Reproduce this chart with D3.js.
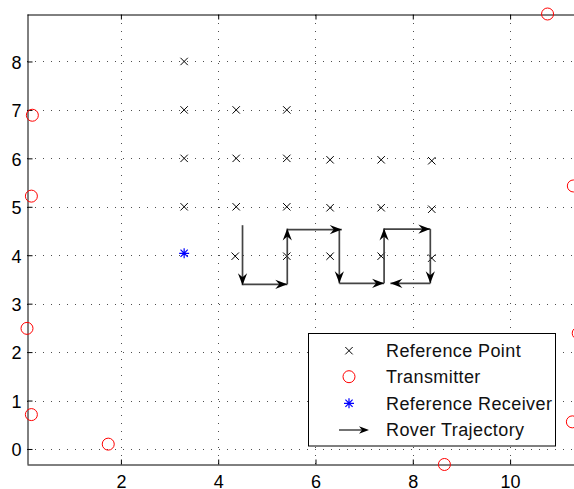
<!DOCTYPE html>
<html>
<head>
<meta charset="utf-8">
<script src="https://cdn.jsdelivr.net/npm/d3@7"></script>
<style>
  body { margin: 0; background: #fff; }
  svg { display: block; font-family: "Liberation Sans", Arial, Helvetica, sans-serif; }
</style>
</head>
<body>
<svg id="chart" width="574" height="489"></svg>
<script>
// reference grid points
const refX = [3.30, 3.30, 3.30, 3.30, 4.37, 4.37, 4.37, 4.35, 5.41, 5.41, 5.41, 5.41,
              6.30, 6.30, 6.30, 7.35, 7.35, 7.35, 8.39, 8.39, 8.39];
const refY = [8.00, 7.00, 6.00, 5.00, 7.00, 6.00, 5.00, 3.98, 7.00, 6.00, 5.00, 3.98,
              5.97, 4.98, 3.98, 5.97, 4.98, 3.98, 5.95, 4.95, 3.94];

// transmitters
const txX = [0.18, 0.16, 0.07, 0.16, 1.74, 10.77, 11.30, 11.40, 11.28, 8.65];
const txY = [6.89, 5.22, 2.49, 0.71, 0.10, 8.98, 5.43, 2.39, 0.56, -0.32];

// reference receiver
const rxX = [3.30];
const rxY = [4.04];

// rover trajectory segments (start -> end)
const trajX0 = [4.50, 4.51, 5.42, 5.43, 6.49, 6.49, 7.41, 7.40, 8.36, 8.36];
const trajY0 = [4.62, 3.40, 3.40, 4.53, 4.53, 3.42, 3.42, 4.54, 4.54, 3.42];
const trajX1 = [4.50, 5.42, 5.42, 6.54, 6.49, 7.41, 7.41, 8.36, 8.36, 7.54];
const trajY1 = [3.38, 3.40, 4.55, 4.53, 3.42, 3.42, 4.55, 4.54, 3.42, 3.42];

const xTicks = [2, 4, 6, 8, 10];
const yTicks = [0, 1, 2, 3, 4, 5, 6, 7, 8];
const legendLabels = ['Reference Point', 'Transmitter', 'Reference Receiver', 'Rover Trajectory'];

const svg = d3.select('#chart');
const plotLeft = 27, plotTop = 14, plotBottom = 464;
const x = d3.scaleLinear().domain([0.07, 11.5]).range([plotLeft, plotLeft + (11.5 - 0.07) * 48.65]);
const y = d3.scaleLinear().domain([-0.31, 8.98]).range([plotBottom, plotTop]);
const plotRight = x.range()[1];

// grid (dotted)
const grid = svg.append('g').attr('stroke', '#222').attr('stroke-width', 1)
    .attr('stroke-dasharray', '1,7').attr('opacity', 0.8);
grid.selectAll('line.gx').data(xTicks).enter().append('line')
    .attr('x1', d => Math.round(x(d)) + 0.5).attr('x2', d => Math.round(x(d)) + 0.5)
    .attr('y1', plotBottom).attr('y2', plotTop);
grid.selectAll('line.gy').data(yTicks).enter().append('line')
    .attr('x1', plotLeft).attr('x2', plotRight)
    .attr('y1', d => Math.round(y(d)) + 0.5).attr('y2', d => Math.round(y(d)) + 0.5);

// axes (MATLAB style, ticks inward)
const xAxisB = d3.axisBottom(x).tickValues(xTicks).tickSize(-5).tickPadding(12).tickSizeOuter(0);
const xAxisT = d3.axisTop(x).tickValues(xTicks).tickSize(-5).tickFormat('').tickSizeOuter(0);
const yAxisL = d3.axisLeft(y).tickValues(yTicks).tickSize(-5).tickPadding(6).tickSizeOuter(0);

function styleAxis(g) {
    g.select('.domain').attr('stroke', '#000').attr('stroke-width', 1);
    g.selectAll('.tick line').attr('stroke', '#000');
    g.selectAll('.tick text').attr('fill', '#000').style('font-size', '18px')
        .attr('font-family', null);
}
svg.append('g').attr('transform', `translate(0,${plotBottom + 0.5})`).call(xAxisB).call(styleAxis)
    .selectAll('.tick text').attr('dy', null).attr('y', 23);
svg.append('g').attr('transform', `translate(0,${plotTop + 0.5})`).call(xAxisT).call(styleAxis);
svg.append('g').attr('transform', `translate(${plotLeft + 0.5},0)`).call(yAxisL).call(styleAxis)
    .selectAll('.tick text').attr('dy', '0.38em');

// reference points (x markers)
const cross = (cx, cy, r) => `M${cx - r},${cy - r}L${cx + r},${cy + r}M${cx - r},${cy + r}L${cx + r},${cy - r}`;
svg.append('g').selectAll('path').data(refX).enter().append('path')
    .attr('d', (d, i) => cross(x(d), y(refY[i]), 3.7))
    .attr('stroke', '#000').attr('stroke-width', 1).attr('fill', 'none');

// trajectory arrows
const head = 'M0,0L-12,-4.6L-8,0L-12,4.6Z';
const traj = svg.append('g');
traj.selectAll('line').data(trajX0).enter().append('line')
    .attr('x1', (d, i) => x(d)).attr('y1', (d, i) => y(trajY0[i]))
    .attr('x2', (d, i) => x(trajX1[i])).attr('y2', (d, i) => y(trajY1[i]))
    .attr('stroke', '#444').attr('stroke-width', 1.7);
traj.selectAll('path').data(trajX0).enter().append('path')
    .attr('d', head)
    .attr('transform', (d, i) => {
        const ang = Math.atan2(y(trajY1[i]) - y(trajY0[i]), x(trajX1[i]) - x(d)) * 180 / Math.PI;
        return `translate(${x(trajX1[i])},${y(trajY1[i])}) rotate(${ang})`;
    })
    .attr('fill', '#000');

// transmitters
svg.append('g').selectAll('circle').data(txX).enter().append('circle')
    .attr('cx', d => x(d)).attr('cy', (d, i) => y(txY[i])).attr('r', 6)
    .attr('fill', 'none').attr('stroke', '#ff0000').attr('stroke-width', 1);

// reference receiver (asterisk)
const star = (cx, cy, r) => cross(cx, cy, r * 0.72) + `M${cx - r},${cy}L${cx + r},${cy}M${cx},${cy - r}L${cx},${cy + r}`;
svg.append('g').selectAll('path').data(rxX).enter().append('path')
    .attr('d', (d, i) => star(x(d), y(rxY[i]), 5))
    .attr('stroke', '#0000ff').attr('stroke-width', 1.2).attr('fill', 'none');

// legend
const lg = svg.append('g');
lg.append('rect').attr('x', 308.5).attr('y', 333.5).attr('width', 247).attr('height', 112.5)
    .attr('fill', '#fff').attr('stroke', '#000').attr('stroke-width', 1);
const rowY = [350.7, 376.7, 403.3, 430];
lg.selectAll('text').data(legendLabels).enter().append('text')
    .attr('x', 386).attr('y', (d, i) => rowY[i] + 6.2)
    .style('font-size', '18px').attr('letter-spacing', '0.4px').attr('fill', '#111')
    .text(d => d);
const mx = 349;
lg.append('path').attr('d', cross(mx, rowY[0], 3.7)).attr('stroke', '#000').attr('fill', 'none');
lg.append('circle').attr('cx', mx).attr('cy', rowY[1]).attr('r', 6)
    .attr('fill', 'none').attr('stroke', '#ff0000');
lg.append('path').attr('d', star(mx, rowY[2], 5)).attr('stroke', '#0000ff')
    .attr('stroke-width', 1.2).attr('fill', 'none');
lg.append('line').attr('x1', 339).attr('x2', 362).attr('y1', rowY[3]).attr('y2', rowY[3])
    .attr('stroke', '#444').attr('stroke-width', 1.5);
lg.append('path').attr('d', 'M0,0L-10,-3.8L-7,0L-10,3.8Z')
    .attr('transform', `translate(369,${rowY[3]})`).attr('fill', '#000');
</script>
</body>
</html>
